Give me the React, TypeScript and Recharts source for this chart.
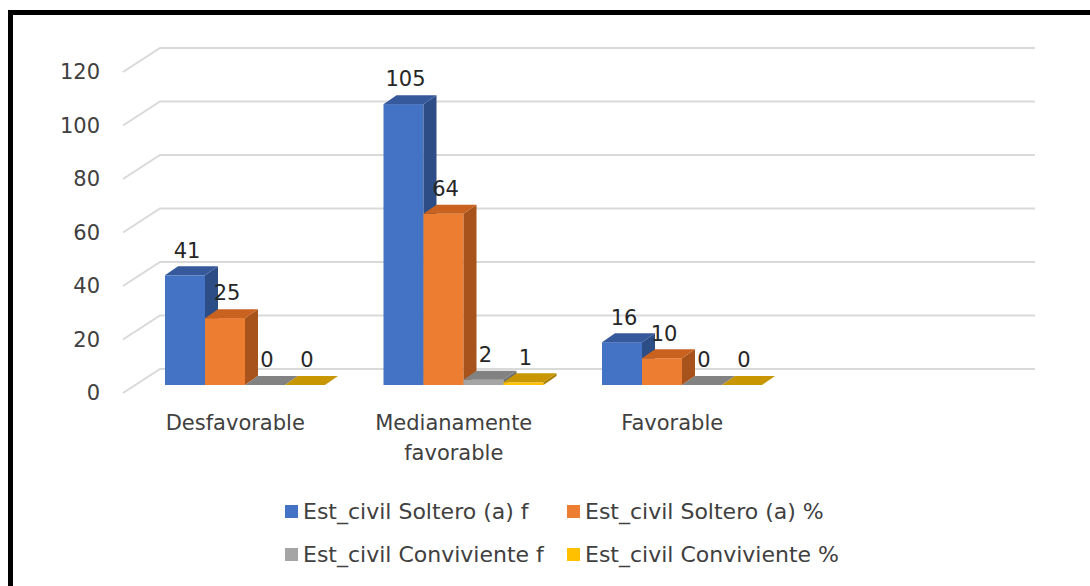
import { Bar, BarChart, CartesianGrid, LabelList, Legend, Text, XAxis, YAxis } from "recharts";

const categories = ["Desfavorable", "Medianamente favorable", "Favorable", ""];
const solteroF = [41, 105, 16, null];
const solteroPct = [25, 64, 10, null];
const convivienteF = [0, 2, 0, null];
const convivientePct = [0, 1, 0, null];
const yTicks = [0, 20, 40, 60, 80, 100, 120];

const seriesNames = [
  "Est_civil Soltero (a) f",
  "Est_civil Soltero (a) %",
  "Est_civil Conviviente f",
  "Est_civil Conviviente %"
];

const data = categories.map((name, i) => ({
  name,
  sf: solteroF[i],
  sp: solteroPct[i],
  cf: convivienteF[i],
  cp: convivientePct[i]
}));

const FONT = "'DejaVu Sans', sans-serif";
// 3d look: front face pushed back a bit, then the box depth
const OFF_X = 12;
const OFF_Y = -8;
const DEP_X = 13;
const DEP_Y = -9;

const colors = [
  { front: "#4472C4", top: "#36599c", side: "#2c4d86" },
  { front: "#ED7D31", top: "#c8621e", side: "#a9531c" },
  { front: "#A5A5A5", top: "#828282", side: "#6f6f6f" },
  { front: "#FFC000", top: "#c79600", side: "#a87f00" }
];

function makeShape(c: { front: string; top: string; side: string }, key: string) {
  return (p: any) => {
    if (p.payload?.[key] == null) return <g />;
    const x = p.x + OFF_X;
    const y = p.y + OFF_Y;
    const w = p.width;
    const h = Math.max(0, p.height);
    return (
      <g>
        {h > 0 && <rect x={x} y={y} width={w} height={h} fill={c.front} />}
        {h > 0 && (
          <polygon
            points={`${x + w},${y} ${x + w + DEP_X},${y + DEP_Y} ${x + w + DEP_X},${y + h + DEP_Y} ${x + w},${y + h}`}
            fill={c.side}
          />
        )}
        <polygon
          points={`${x},${y} ${x + w},${y} ${x + w + DEP_X},${y + DEP_Y} ${x + DEP_X},${y + DEP_Y}`}
          fill={c.top}
        />
      </g>
    );
  };
}

const renderLabel = (p: any) => {
  if (p.value == null) return null;
  const x = p.x ?? p.viewBox?.x;
  const y = p.y ?? p.viewBox?.y;
  const w = p.width ?? p.viewBox?.width;
  return (
    <text
      x={x + w / 2 + 14}
      y={y + OFF_Y + DEP_Y - 16}
      dy="0.35em"
      textAnchor="middle"
      fontSize={21}
      fontFamily={FONT}
      fill="#262626"
    >
      {p.value}
    </text>
  );
};

const gridLine = (p: any) => {
  const { x1, x2, y1, index } = p;
  return (
    <path
      key={`grid-${index}`}
      d={`M${x1 - 1},${y1} L${x1 + 36},${y1 - 24} L${x2 + 37},${y1 - 24}`}
      fill="none"
      stroke="#d9d9d9"
      strokeWidth={2}
    />
  );
};

const CatTick = (p: any) => {
  const { x, y, payload } = p;
  return (
    <Text
      x={x + 2}
      y={y + 22}
      width={200}
      textAnchor="middle"
      verticalAnchor="start"
      lineHeight={30}
      fontSize={21}
      fontFamily={FONT}
      fill="#404040"
      style={{ fontSize: 21, fontFamily: FONT }}
    >
      {payload.value}
    </Text>
  );
};

const renderLegend = (p: any) => {
  const items = [...(p.payload || [])].sort(
    (a: any, b: any) => seriesNames.indexOf(a.value) - seriesNames.indexOf(b.value)
  );
  return (
    <div
      style={{
        display: "grid",
        gridTemplateColumns: "282px 320px",
        fontFamily: FONT,
        fontSize: 22,
        color: "#404040"
      }}
    >
      {items.map((e: any) => (
        <div key={e.value} style={{ display: "flex", alignItems: "center", height: 43, whiteSpace: "nowrap" }}>
          <span style={{ width: 13, height: 13, background: e.color, marginRight: 5, flex: "none" }} />
          {e.value}
        </div>
      ))}
    </div>
  );
};

const keys = ["sf", "sp", "cf", "cp"];

export default function App() {
  return (
    <div
      style={{
        position: "absolute",
        left: 0,
        top: 0,
        width: 1090,
        height: 586,
        overflow: "hidden",
        background: "#fff"
      }}
    >
      <div
        style={{
          position: "absolute",
          left: 8,
          top: 10,
          width: 1200,
          height: 700,
          border: "5px solid #000"
        }}
      />
      <div style={{ position: "absolute", left: 0, top: 0 }}>
        <BarChart
          width={1090}
          height={586}
          data={data}
          margin={{ top: 72, right: 92, left: 64, bottom: 133 }}
          barGap={0}
          barSize={40}
        >
          <CartesianGrid horizontal={gridLine} vertical={false} />
          <XAxis
            dataKey="name"
            height={60}
            axisLine={false}
            tickLine={false}
            tickSize={0}
            tickMargin={0}
            interval={0}
            tick={<CatTick />}
          />
          <YAxis
            width={60}
            domain={[0, 120]}
            ticks={yTicks}
            axisLine={false}
            tickLine={false}
            tickSize={0}
            tickMargin={24}
            tick={{ fontSize: 21, fontFamily: FONT, fill: "#404040" }}
          />
          <Legend
            layout="horizontal"
            verticalAlign="middle"
            align="center"
            content={renderLegend}
            wrapperStyle={{ left: 285, top: 490, width: 650 }}
          />
          {keys.map((k, i) => (
            <Bar
              key={k}
              dataKey={k}
              name={seriesNames[i]}
              fill={colors[i].front}
              shape={makeShape(colors[i], k)}
              isAnimationActive={false}
            >
              <LabelList dataKey={k} content={renderLabel} />
            </Bar>
          ))}
        </BarChart>
      </div>
    </div>
  );
}
